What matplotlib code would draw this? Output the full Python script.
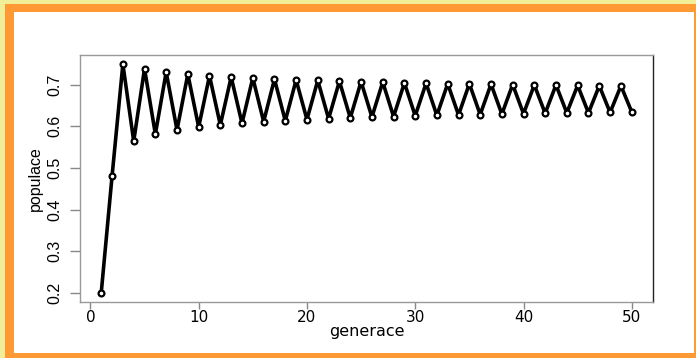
import matplotlib
matplotlib.use("Agg")
import matplotlib.pyplot as plt
from matplotlib.patches import Rectangle

generace = list(range(1, 51))
populace = [0.200, 0.480, 0.749, 0.564, 0.738, 0.581, 0.730, 0.591, 0.725, 0.598,
            0.721, 0.603, 0.718, 0.607, 0.716, 0.611, 0.713, 0.613, 0.711, 0.616,
            0.710, 0.618, 0.708, 0.620, 0.707, 0.622, 0.706, 0.623, 0.704, 0.625,
            0.703, 0.626, 0.702, 0.627, 0.702, 0.628, 0.701, 0.629, 0.700, 0.630,
            0.699, 0.631, 0.699, 0.632, 0.698, 0.632, 0.697, 0.633, 0.697, 0.634]
xticks = [0, 10, 20, 30, 40, 50]
yticks = [0.2, 0.3, 0.4, 0.5, 0.6, 0.7]

plt.rcParams['font.family'] = ['Liberation Sans', 'DejaVu Sans']
W, H = 696, 358
fig = plt.figure(figsize=(W/100, H/100), dpi=100)
fig.patch.set_facecolor('#f2ee98')
fig.patches.append(Rectangle((5/W, 0), (W-5)/W, (H-4)/H, transform=fig.transFigure,
                             facecolor='#ff9933', edgecolor='none', zorder=-2))
fig.patches.append(Rectangle((14/W, 5/H), (694-14)/W, (353-12)/H, transform=fig.transFigure,
                             facecolor='white', edgecolor='none', zorder=-1))

ax = fig.add_axes([80/W, 1-302/H, (653-80)/W, (302-55)/H])
ax.set_zorder(5)
ax.set_facecolor('none')
ax.plot(generace, populace, color='black', lw=2.6, marker='o', ms=4.2,
        mfc='white', mec='black', mew=1.6, solid_joinstyle='round')
ax.set_xlim(1 - 0.04*49, 50 + 0.04*49)
ymin, ymax = min(populace), max(populace)
r = ymax - ymin
ax.set_ylim(ymin - 0.04*r, ymax + 0.04*r)
ax.set_xticks(xticks)
ax.set_xticklabels([str(v) for v in xticks], family=['DejaVu Sans'], fontsize=11)
ax.set_yticks(yticks)
ax.set_yticklabels([f"{v:.1f}" for v in yticks], rotation=90, va='center', fontsize=11.5)
for s in ['top', 'left', 'bottom']:
    ax.spines[s].set_color('#999999')
ax.spines['right'].set_color('#222222')
for s in ax.spines.values():
    s.set_linewidth(1)
ax.tick_params(axis='x', direction='out', length=5, width=1, color='#888888', pad=1)
ax.tick_params(axis='y', direction='out', length=7, width=1, color='#888888', pad=6)
ax.set_xlabel('generace', family=['DejaVu Sans'], fontsize=11.5, labelpad=-1)
ax.set_ylabel('populace', fontsize=11.5, labelpad=3)

fig.savefig('out.png', dpi=100, facecolor=fig.get_facecolor())
